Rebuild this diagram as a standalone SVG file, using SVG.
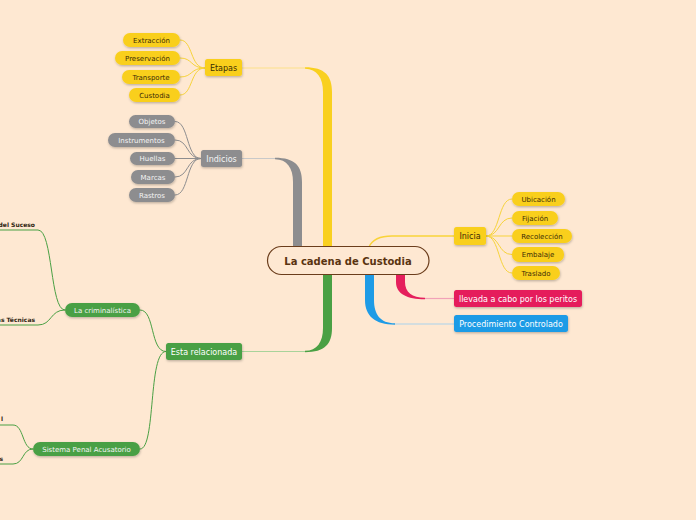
<svg xmlns="http://www.w3.org/2000/svg" width="696" height="520" viewBox="0 0 696 520">
<defs>
<filter id="sh" x="-20%" y="-30%" width="140%" height="170%">
<feDropShadow dx="0.5" dy="1.2" stdDeviation="0.8" flood-color="#000" flood-opacity="0.25"/>
</filter>
<style>
text{font-family:"DejaVu Sans","Liberation Sans",sans-serif;}
.yel{fill:#f9cf1e;filter:url(#sh);}
.gry{fill:#8d8d8f;filter:url(#sh);}
.grn{fill:#4aa044;filter:url(#sh);}
.tk{fill:#3b2c06;font-size:7px;text-anchor:middle;}
.tw{fill:#f4f4f4;font-size:7px;text-anchor:middle;}
.tm{font-size:8px;text-anchor:middle;}
.lsub{fill:#2e2410;font-size:6px;font-weight:bold;text-anchor:end;}
.cy{fill:none;stroke:#f7d33a;stroke-width:1;}
.cg{fill:none;stroke:#8d8d8f;stroke-width:1;}
.cgr{fill:none;stroke:#4aa044;stroke-width:1;}
</style>
</defs>
<rect width="696" height="520" fill="#fee8d2"/>
<g id="connectors">
<path d="M242 68 L305 68" stroke="#fbe08a" stroke-width="1.2" fill="none"/>
<path d="M305 67.3 C325 67.3 332 76 332 92 L332 247 L323 247 L323 92 C323 78 317 69 305 68.7 Z" fill="#f9d01f"/>
<path d="M242 158.5 L275 158.5" stroke="#c9c9c9" stroke-width="1.2" fill="none"/>
<path d="M275 157.8 C295 157.8 302 166 302 182 L302 247 L293 247 L293 182 C293 168 287 159.2 275 159.2 Z" fill="#8d8d8f"/>
<path d="M242 351.5 L305 351.5" stroke="#a9d39a" stroke-width="1.2" fill="none"/>
<path d="M305 352.2 C325 352.2 332 344 332 328 L332 274 L323 274 L323 328 C323 342 317 350.8 305 350.8 Z" fill="#4aa044"/>
<path d="M395 324 L454 324" stroke="#a9d2ec" stroke-width="1.2" fill="none"/>
<path d="M395 324.7 C375 324.7 365 316 365 300 L365 274 L374 274 L374 300 C374 314 380 323.3 395 323.3 Z" fill="#1e9be6"/>
<path d="M425 298.5 L454 298.5" stroke="#f1a2b8" stroke-width="1.2" fill="none"/>
<path d="M425 299.2 C407 299.2 396 294 396 282 L396 274 L405 274 L405 282 C405 292 412 297.8 425 297.8 Z" fill="#e51f5c"/>
<path d="M369 247 C372 240 378 236 392 236 L454 236" stroke="#f9d33a" stroke-width="1.3" fill="none"/>
<path class="cy" d="M205 68 C190 68 193 40 180 40"/>
<path class="cy" d="M205 68 C190 68 193 58 180 58"/>
<path class="cy" d="M205 68 C190 68 193 77 180 77"/>
<path class="cy" d="M205 68 C190 68 193 95 180 95"/>
<path class="cg" d="M201 158.5 C186 158.5 189 121.5 175 121.5"/>
<path class="cg" d="M201 158.5 C186 158.5 189 140 175 140"/>
<path class="cg" d="M201 158.5 L175 158.5"/>
<path class="cg" d="M201 158.5 C186 158.5 189 177 175 177"/>
<path class="cg" d="M201 158.5 C186 158.5 189 195 175 195"/>
<path class="cy" d="M486 236 C500 236 498 199 512 199"/>
<path class="cy" d="M486 236 C500 236 498 218 512 218"/>
<path class="cy" d="M486 236 L512 236"/>
<path class="cy" d="M486 236 C500 236 498 254.5 512 254.5"/>
<path class="cy" d="M486 236 C500 236 498 273 512 273"/>
<path class="cgr" d="M166 351.5 C150 351.5 155 310 140 310"/>
<path class="cgr" d="M166 351.5 C148 351.5 156 449 140 449"/>
<path class="cgr" d="M65 310 C50 310 53 230 38 230 L0 230"/>
<path class="cgr" d="M65 310 C50 310 52 325 38 325 L0 325"/>
<path class="cgr" d="M33 449 C22 449 24 425 13 425 L0 425"/>
<path class="cgr" d="M33 449 C22 449 24 464 13 464 L0 464"/>
</g>
<g id="central">
<rect x="267.5" y="246.5" width="161.5" height="28" rx="14" fill="#fee8d2" stroke="#6b3d1c" stroke-width="1.2"/>
<text x="348" y="264.5" font-size="10" font-weight="bold" fill="#5a3410" text-anchor="middle">La cadena de Custodia</text>
</g>
<g id="etapas"><rect class="yel" x="205" y="59" width="37" height="17" rx="2.5"/><text class="tm" x="223.5" y="70.8" fill="#3b2c06">Etapas</text></g>
<g id="extraccion"><rect class="yel" x="123" y="33" width="57" height="14" rx="7"/><text class="tk" x="151.5" y="42.5">Extracción</text></g>
<g id="preservacion"><rect class="yel" x="115" y="51" width="65" height="14" rx="7"/><text class="tk" x="147.5" y="60.5">Preservación</text></g>
<g id="transporte"><rect class="yel" x="122" y="70" width="58" height="14" rx="7"/><text class="tk" x="151" y="79.5">Transporte</text></g>
<g id="custodia"><rect class="yel" x="129" y="88" width="51" height="14" rx="7"/><text class="tk" x="154.5" y="97.5">Custodia</text></g>
<g id="indicios"><rect class="gry" x="201" y="150" width="41" height="17" rx="2.5"/><text class="tm" x="221.5" y="161.8" fill="#f4f4f4">Indicios</text></g>
<g id="objetos"><rect class="gry" x="129" y="115" width="46" height="13" rx="6.5"/><text class="tw" x="152" y="124">Objetos</text></g>
<g id="instrumentos"><rect class="gry" x="108" y="133" width="67" height="14" rx="7"/><text class="tw" x="141.5" y="142.5">Instrumentos</text></g>
<g id="huellas"><rect class="gry" x="130" y="152" width="45" height="13" rx="6.5"/><text class="tw" x="152.5" y="161">Huellas</text></g>
<g id="marcas"><rect class="gry" x="131" y="170" width="44" height="14" rx="7"/><text class="tw" x="153" y="179.5">Marcas</text></g>
<g id="rastros"><rect class="gry" x="129" y="188" width="46" height="14" rx="7"/><text class="tw" x="152" y="197.5">Rastros</text></g>
<g id="inicia"><rect class="yel" x="454" y="227" width="32" height="18" rx="2.5"/><text class="tm" x="470" y="239.3" fill="#3b2c06">Inicia</text></g>
<g id="ubicacion"><rect class="yel" x="512" y="192" width="53" height="14" rx="7"/><text class="tk" x="538.5" y="201.5">Ubicación</text></g>
<g id="fijacion"><rect class="yel" x="512" y="211" width="46" height="14" rx="7"/><text class="tk" x="535" y="220.5">Fijación</text></g>
<g id="recoleccion"><rect class="yel" x="512" y="229" width="60" height="14" rx="7"/><text class="tk" x="542" y="238.5">Recolección</text></g>
<g id="embalaje"><rect class="yel" x="512" y="247" width="52" height="15" rx="7"/><text class="tk" x="538" y="257">Embalaje</text></g>
<g id="traslado"><rect class="yel" x="512" y="266" width="48" height="14" rx="7"/><text class="tk" x="536" y="275.5">Traslado</text></g>
<g id="llevada"><rect x="454" y="290" width="128" height="17" rx="2.5" fill="#e51f5c" filter="url(#sh)"/><text class="tm" x="518" y="301.8" fill="#fff">llevada a cabo por los peritos</text></g>
<g id="procedimiento"><rect x="454" y="315" width="114" height="17" rx="2.5" fill="#1e9be6" filter="url(#sh)"/><text class="tm" x="511" y="326.8" fill="#fff">Procedimiento Controlado</text></g>
<g id="relacionada"><rect class="grn" x="166" y="343" width="76" height="17" rx="2.5"/><text class="tm" x="204" y="354.8" fill="#fff">Esta relacionada</text></g>
<g id="criminalistica"><rect class="grn" x="65" y="303" width="75" height="14" rx="7"/><text class="tw" x="102.5" y="312.5">La criminalística</text></g>
<g id="sistema"><rect class="grn" x="33" y="442" width="107" height="14" rx="7"/><text class="tw" x="86.5" y="451.5">Sistema Penal Acusatorio</text></g>
<g id="suceso"><text class="lsub" x="35" y="226.5">e del Suceso</text></g>
<g id="tecnicas"><text class="lsub" x="35" y="321.5">as Técnicas</text></g>
<g id="sub-l"><text class="lsub" x="3" y="421">l</text></g>
<g id="sub-s"><text class="lsub" x="3" y="460.5">s</text></g>
</svg>
